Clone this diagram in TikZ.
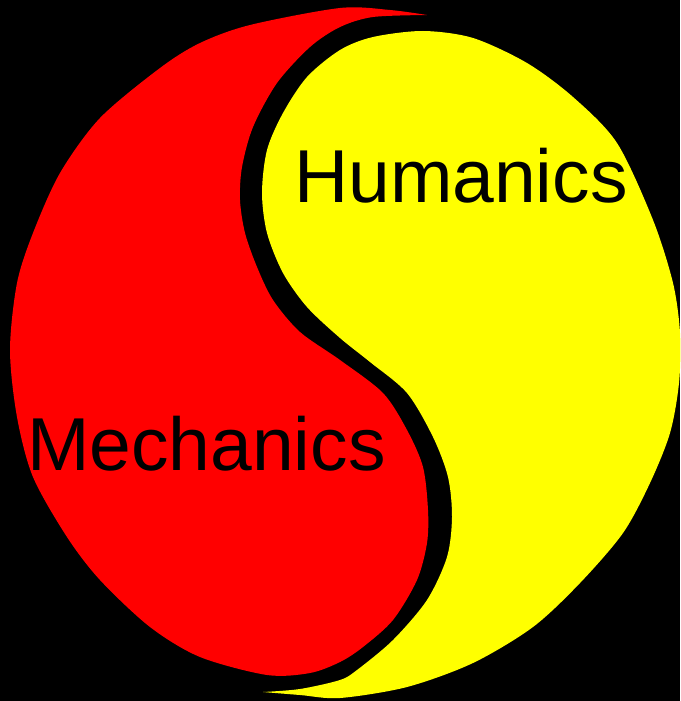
\documentclass[tikz,border=0pt]{standalone}
\usepackage{fontspec}
\setmainfont{Liberation Sans}
\definecolor{mechred}{HTML}{FF0000}
\definecolor{humyellow}{HTML}{FFFF00}
\definecolor{ground}{HTML}{000000}
\tikzset{
  half/.style={draw=none},
  redhalf/.style={half, fill=mechred},
  yelhalf/.style={half, fill=humyellow},
  %
  word/.style={font=\fontsize{75}{80}\selectfont, text=black,
               inner sep=0pt, anchor=base west},
}
\begin{document}
\begin{tikzpicture}[x=1pt, y=-1pt]

  \fill[ground] (0,0) rectangle (680,701);

  % red half: from the upper tip round the left and back up the S
  \fill[redhalf] plot[smooth] coordinates {
    (427,15) (390,10) (340,8) (250,25) (200,43) (160,68) (100,118)
    (60,173) (33,233) (17,283) (10,350) (17,417) (33,477) (67,537)
    (100,580) (150,627) (200,657) (267,675) (310,673) (340,662)
    (363,647) (393,620) (417,580) (427,543) (428,510) (423,467)
    (407,430) (383,393) (340,360) (300,332) (273,300) (257,267)
    (245,233) (240,200) (242,167) (253,127) (277,83) (310,47)
    (340,27) (373,17) (427,15)};

  % yellow half: from the lower tip round the right and back down the S
  \fill[yelhalf] plot[smooth] coordinates {
    (263,692) (300,695) (340,698) (407,687) (473,663) (533,627)
    (580,583) (623,533) (650,483) (670,433) (679,383) (680,333)
    (673,283) (653,220) (617,143) (573,97) (527,63) (473,38)
    (423,31) (373,37) (340,50) (307,77) (283,113) (267,150)
    (262,193) (267,233) (283,273) (307,307) (340,338) (370,362)
    (407,393) (433,437) (448,477) (452,517) (447,557) (427,600)
    (393,640) (357,670) (340,680) (300,689) (263,692)};

  \node[word] (hum) at (294,202) {Humanics};
  \node[word] (mech) at (27,470) {Mechanics};

\end{tikzpicture}
\end{document}
